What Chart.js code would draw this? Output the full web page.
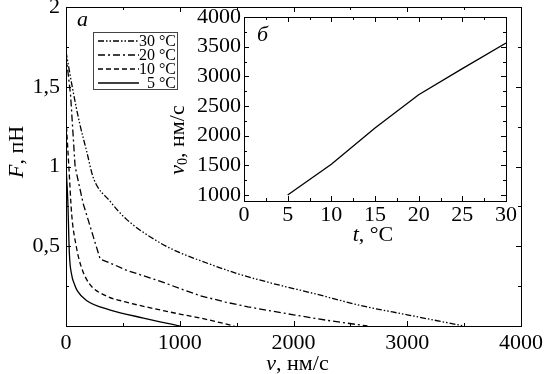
<!DOCTYPE html>
<html>
<head>
<meta charset="utf-8">
<script src="https://cdn.jsdelivr.net/npm/chart.js@4/dist/chart.umd.min.js"></script>
<style>
  body { margin: 0; background: #fff; }
  #wrap { position: relative; width: 544px; height: 374px; }
  canvas { position: absolute; left: 0; top: 0; }
</style>
</head>
<body>
<div id="wrap">
  <canvas id="main" width="544" height="374"></canvas>
  <canvas id="inset" width="544" height="374"></canvas>
</div>
<script>
// main panel (a): force vs velocity
const v30 = [0, 60, 120, 180, 240, 390, 530, 830, 1000, 1180, 1500, 1800, 2200, 2580, 3000, 3500];
const f30 = [1.72, 1.48, 1.27, 1.1, 0.93, 0.78, 0.67, 0.52, 0.46, 0.41, 0.33, 0.27, 0.2, 0.13, 0.07, 0];
const v20 = [0, 40, 80, 150, 240, 300, 420, 530, 680, 830, 1000, 1180, 1400, 1600, 2000, 2300, 2650];
const f20 = [1.7, 1.45, 1.0, 0.77, 0.56, 0.42, 0.385, 0.35, 0.315, 0.28, 0.235, 0.19, 0.15, 0.12, 0.07, 0.035, 0];
const v10 = [0, 25, 50, 90, 130, 200, 350, 530, 830, 1000, 1180, 1480];
const f10 = [1.3, 1.0, 0.7, 0.5, 0.38, 0.27, 0.19, 0.15, 0.1, 0.075, 0.05, 0];
const v5 = [0, 15, 30, 50, 70, 100, 180, 390, 680, 1000];
const f5 = [1.0, 0.8, 0.45, 0.32, 0.27, 0.22, 0.16, 0.1, 0.05, 0];
const seriesLabels = ['30 °C', '20 °C', '10 °C', '5 °C'];

const mainXTicks = [0, 1000, 2000, 3000, 4000];
const mainXMinor = [500, 1500, 2500, 3500];
const mainYTicks = [0, 0.5, 1, 1.5, 2];
const mainYMinor = [0.25, 0.75, 1.25, 1.75];

// inset panel (б): v0 vs temperature
const insetT = [5, 10, 15, 20, 25, 30];
const insetV0 = [1000, 1520, 2130, 2690, 3130, 3560];
const insetXTicks = [0, 5, 10, 15, 20, 25, 30];
const insetXMinor = [2.5, 7.5, 12.5, 17.5, 22.5, 27.5];
const insetYTicks = [1000, 1500, 2000, 2500, 3000, 3500, 4000];
const insetYMinor = [1250, 1750, 2250, 2750, 3250, 3750];

const SERIF = 'Liberation Serif';
Chart.defaults.font.family = SERIF;
Chart.defaults.color = '#000';

function pts(xs, ys) {
  return xs.map((x, i) => ({ x: x, y: ys[i] }));
}

// inward ticks on all four sides + frame
const framePlugin = {
  id: 'frame',
  afterDatasetsDraw(chart, args, opts) {
    const { ctx, chartArea: a } = chart;
    const xs = chart.scales.x, ys = chart.scales.y;
    ctx.save();
    ctx.strokeStyle = '#000';
    ctx.lineWidth = 1;
    ctx.strokeRect(a.left + 0.5, a.top + 0.5, a.right - a.left, a.bottom - a.top);
    const tick = (vals, len) => {
      vals.forEach(v => {
        const px = Math.round(xs.getPixelForValue(v)) + 0.5;
        ctx.beginPath();
        ctx.moveTo(px, a.bottom); ctx.lineTo(px, a.bottom - len);
        ctx.moveTo(px, a.top); ctx.lineTo(px, a.top + len);
        ctx.stroke();
      });
    };
    const ytick = (vals, len) => {
      vals.forEach(v => {
        const py = Math.round(ys.getPixelForValue(v)) + 0.5;
        ctx.beginPath();
        ctx.moveTo(a.left, py); ctx.lineTo(a.left + len, py);
        ctx.moveTo(a.right, py); ctx.lineTo(a.right - len, py);
        ctx.stroke();
      });
    };
    tick(opts.xMajor, 5); tick(opts.xMinor, 3);
    ytick(opts.yMajor, 5); ytick(opts.yMinor, 3);
    ctx.restore();
  }
};

// text pieces with mixed italic / subscript
function drawRuns(ctx, runs, x, y, size, align) {
  let total = 0;
  runs.forEach(r => {
    ctx.font = (r.italic ? 'italic ' : '') + Math.round(size * (r.scale || 1)) + 'px ' + SERIF;
    r.w = ctx.measureText(r.text).width;
    total += r.w;
  });
  let cx = align === 'center' ? x - total / 2 : x;
  runs.forEach(r => {
    ctx.font = (r.italic ? 'italic ' : '') + Math.round(size * (r.scale || 1)) + 'px ' + SERIF;
    ctx.fillText(r.text, cx, y + (r.dy || 0));
    cx += r.w;
  });
}

const labelsPlugin = {
  id: 'labels',
  afterDraw(chart, args, opts) {
    const { ctx, chartArea: a } = chart;
    ctx.save();
    ctx.fillStyle = '#000';
    ctx.textBaseline = 'middle';
    ctx.textAlign = 'left';
    drawRuns(ctx, opts.xTitle, (a.left + a.right) / 2 + opts.xTitleDx, opts.xTitleY, 22, 'center');
    ctx.save();
    ctx.translate(opts.yTitleX, opts.yTitleY);
    ctx.rotate(-Math.PI / 2);
    drawRuns(ctx, opts.yTitle, 0, 0, 22, 'center');
    ctx.restore();
    ctx.font = 'italic 22px ' + SERIF;
    ctx.fillText(opts.letter, a.left + opts.letterDx, a.top + opts.letterDy);
    ctx.restore();
  }
};

const legendPlugin = {
  id: 'boxLegend',
  afterDraw(chart) {
    const { ctx } = chart;
    const bx = 93, by = 32, bw = 84, bh = 57, row = 14;
    ctx.save();
    ctx.fillStyle = '#fff';
    ctx.fillRect(bx, by, bw, bh);
    ctx.strokeStyle = '#444';
    ctx.lineWidth = 1;
    ctx.strokeRect(bx + 0.5, by + 0.5, bw, bh);
    chart.data.datasets.forEach((ds, i) => {
      const y = by + 9 + i * row;
      ctx.setLineDash(ds.borderDash || []);
      ctx.lineWidth = ds.borderWidth;
      ctx.strokeStyle = '#000';
      ctx.beginPath();
      ctx.moveTo(bx + 5, y); ctx.lineTo(bx + 46, y);
      ctx.stroke();
      ctx.setLineDash([]);
      ctx.fillStyle = '#000';
      ctx.font = '16px ' + SERIF;
      ctx.textAlign = 'right';
      ctx.textBaseline = 'middle';
      ctx.fillText(ds.label, bx + bw - 1, y + 1);
    });
    ctx.restore();
  }
};

const insetBg = {
  id: 'insetBg',
  beforeDraw(chart) {
    const { ctx, chartArea: a } = chart;
    ctx.save();
    ctx.fillStyle = '#fff';
    ctx.fillRect(a.left, a.top, a.right - a.left, a.bottom - a.top);
    ctx.restore();
  }
};

function fixTicks(list) {
  return function (scale) {
    scale.ticks = list.map(v => ({ value: v }));
  };
}

function fitAxis(size, horizontal) {
  return function (scale) {
    if (horizontal) scale.height = size; else scale.width = size;
    scale.paddingTop = 0; scale.paddingBottom = 0;
    scale.paddingLeft = 0; scale.paddingRight = 0;
  };
}

const commaFmt = v => (v === 0 ? '' : String(v).replace('.', ','));
const tickFont = { family: SERIF, size: 22 };

const lineStyle = (label, data, dash, smooth) => ({
  label: label,
  data: data,
  showLine: true,
  borderColor: '#000',
  borderWidth: 1.3,
  borderDash: dash,
  pointRadius: 0,
  cubicInterpolationMode: smooth ? 'monotone' : 'default',
  tension: 0,
  fill: false
});

function axis(min, max, ticks, fit, horizontal, pad, fmt) {
  return {
    type: 'linear', min: min, max: max,
    grid: { display: false, drawTicks: false },
    border: { display: false },
    afterBuildTicks: fixTicks(ticks),
    afterFit: fitAxis(fit, horizontal),
    ticks: {
      padding: pad, maxRotation: 0, autoSkip: false, color: '#000',
      font: tickFont,
      callback: fmt
    }
  };
}

new Chart(document.getElementById('main'), {
  type: 'scatter',
  plugins: [framePlugin, labelsPlugin, legendPlugin],
  data: {
    datasets: [
      lineStyle(seriesLabels[0], pts(v30, f30), [6, 2, 1.5, 2, 1.5, 2], true),
      lineStyle(seriesLabels[1], pts(v20, f20), [7, 3, 2, 3], false),
      lineStyle(seriesLabels[2], pts(v10, f10), [5, 3], true),
      lineStyle(seriesLabels[3], pts(v5, f5), [], true)
    ]
  },
  options: {
    responsive: false,
    animation: false,
    devicePixelRatio: 1,
    layout: { padding: { left: 0, top: 7, right: 23, bottom: 0 } },
    scales: {
      x: axis(0, 4000, mainXTicks, 48, true, 4, v => String(v)),
      y: axis(0, 2, mainYTicks, 66, false, 6, commaFmt)
    },
    plugins: {
      legend: { display: false },
      tooltip: { enabled: false },
      frame: { xMajor: mainXTicks, xMinor: mainXMinor, yMajor: mainYTicks, yMinor: mainYMinor },
      labels: {
        xTitle: [{ text: 'v', italic: true }, { text: ', нм/с' }],
        xTitleDx: 4, xTitleY: 364,
        yTitle: [{ text: 'F', italic: true }, { text: ', пН' }],
        yTitleX: 17, yTitleY: 152,
        letter: 'a', letterDx: 11, letterDy: 13
      }
    }
  }
});

new Chart(document.getElementById('inset'), {
  type: 'scatter',
  plugins: [insetBg, framePlugin, labelsPlugin],
  data: {
    datasets: [lineStyle('v0', pts(insetT, insetV0), [], false)]
  },
  options: {
    responsive: false,
    animation: false,
    devicePixelRatio: 1,
    layout: { padding: { left: 184, top: 17, right: 38, bottom: 128 } },
    scales: {
      x: axis(0, 30, insetXTicks, 45, true, 1, v => String(v)),
      y: axis(900, 4000, insetYTicks, 60, false, 3, v => String(v))
    },
    plugins: {
      legend: { display: false },
      tooltip: { enabled: false },
      frame: { xMajor: insetXTicks, xMinor: insetXMinor, yMajor: insetYTicks, yMinor: insetYMinor },
      labels: {
        xTitle: [{ text: 't', italic: true }, { text: ', °C' }],
        xTitleDx: -2, xTitleY: 235,
        yTitle: [{ text: 'v', italic: true }, { text: '0', scale: 0.65, dy: 5 }, { text: ', нм/с' }],
        yTitleX: 178, yTitleY: 140,
        letter: 'б', letterDx: 13, letterDy: 18
      }
    }
  }
});
</script>
</body>
</html>
